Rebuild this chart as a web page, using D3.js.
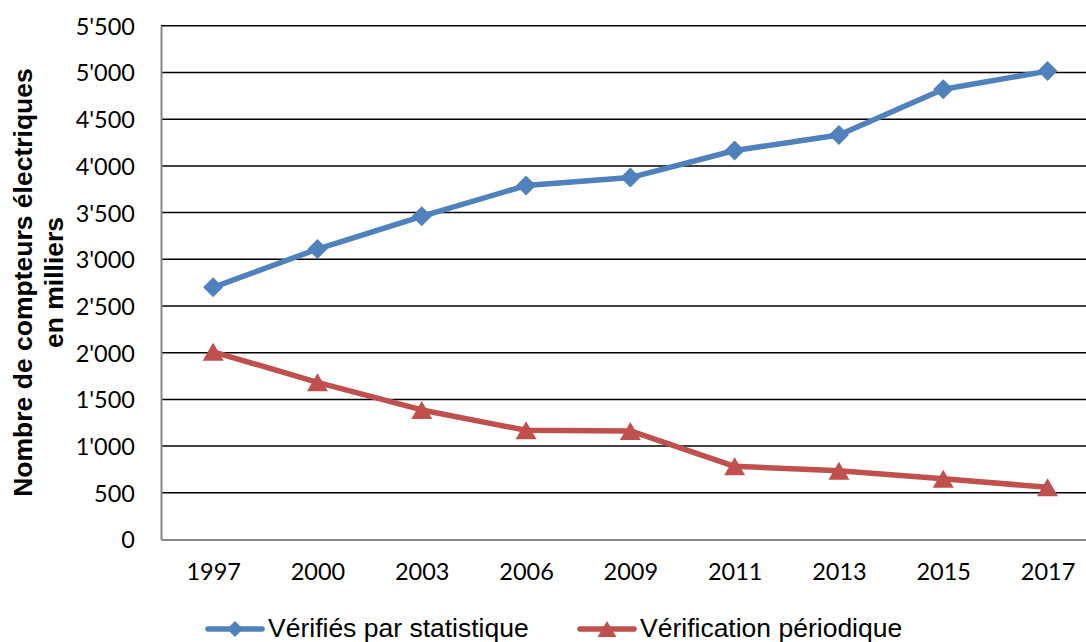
<!DOCTYPE html>
<html><head><meta charset="utf-8">
<script src="https://cdn.jsdelivr.net/npm/d3@7"></script>
<style>
html,body{margin:0;padding:0;background:#fff;}
svg{display:block;}
</style></head>
<body>
<svg id="chart" width="1086" height="642"></svg>
<script>
const years = ["1997","2000","2003","2006","2009","2011","2013","2015","2017"];
const statValues = [2700, 3110, 3460, 3790, 3875, 4165, 4330, 4820, 5015];
const periodValues = [2010, 1683, 1387, 1169, 1162, 784, 737, 650, 559];
const yTicks = [0,500,1000,1500,2000,2500,3000,3500,4000,4500,5000,5500];
const seriesNames = ["Vérifiés par statistique", "Vérification périodique"];
const yTitle = ["Nombre de compteurs électriques", "en milliers"];

const svg = d3.select("#chart");
const left = 161, bandW = 104.3;
const x = d3.scalePoint().domain(years).range([left, left + bandW*years.length]).padding(0.5);
const y = d3.scaleLinear().domain([0, 5500]).range([539.5, 25.8]);
const fmt = d3.formatLocale({decimal:".", thousands:"'", grouping:[3], currency:["",""]}).format(",");
const blue = "#4F81BD", red = "#C0504D";
const tickFont = "Lato, 'Open Sans', sans-serif";

// gridlines
svg.append("g").selectAll("line").data(yTicks.filter(d=>d>0)).join("line")
  .attr("x1", left).attr("x2", 1100)
  .attr("y1", d=>y(d)).attr("y2", d=>y(d))
  .attr("stroke", "#000").attr("stroke-width", 1.5);

// y axis
const yAxis = svg.append("g").attr("transform", `translate(${left},0)`)
  .call(d3.axisLeft(y).tickValues(yTicks).tickFormat(fmt).tickSize(0).tickPadding(26));
yAxis.select(".domain").attr("stroke", "#868686").attr("stroke-width", 2);
yAxis.selectAll("text").attr("font-family", tickFont).attr("font-size", 23.5).attr("fill", "#000").attr("dy", "0.36em");

// x axis
const xAxis = svg.append("g").attr("transform", `translate(0,${y(0)})`)
  .call(d3.axisBottom(x).tickSize(0).tickPadding(24));
xAxis.select(".domain").attr("stroke", "#868686").attr("stroke-width", 2);
xAxis.selectAll("text").attr("font-family", tickFont).attr("font-size", 23.5).attr("fill", "#000");

// y title
const t = svg.append("text").attr("transform", "translate(32,282.5) rotate(-90)")
  .attr("text-anchor", "middle").attr("font-family", "'Liberation Sans', Arial, sans-serif")
  .attr("font-weight", "bold").attr("font-size", 26.5).attr("fill", "#000");
t.append("tspan").attr("x", 0).attr("y", 0).text(yTitle[0]);
t.append("tspan").attr("x", 0).attr("y", 31).text(yTitle[1]);

const diamond = "M0,-10L10,0L0,10L-10,0Z";
const triangle = "M0,-9L10.5,9L-10.5,9Z";

const series = [
  {name: seriesNames[0], values: statValues, color: blue, marker: diamond},
  {name: seriesNames[1], values: periodValues, color: red, marker: triangle}
];
const line = d3.line().x((d,i)=>x(years[i])).y(d=>y(d));
series.forEach(s => {
  svg.append("path").attr("d", line(s.values)).attr("fill","none")
    .attr("stroke", s.color).attr("stroke-width", 5.5).attr("stroke-linejoin","round");
  svg.append("g").selectAll("path").data(s.values).join("path")
    .attr("d", s.marker).attr("fill", s.color)
    .attr("transform", (d,i)=>`translate(${x(years[i])},${y(d)})`);
});

// legend
const legendX = [208, 580];
series.forEach((s, i) => {
  const g = svg.append("g").attr("transform", `translate(${legendX[i]},629)`);
  g.append("line").attr("x1", 0).attr("x2", 54).attr("stroke", s.color).attr("stroke-width", 5.5).attr("stroke-linecap","round");
  g.append("path").attr("d", i===0 ? "M0,-8L8,0L0,8L-8,0Z" : "M0,-8L9.5,8L-9.5,8Z").attr("fill", s.color).attr("transform", "translate(27,0)");
  g.append("text").attr("x", 60).attr("y", 8).attr("font-family", "'Liberation Sans', Arial, sans-serif")
    .attr("font-size", 26.5).attr("fill", "#000").text(s.name);
});
</script>
</body></html>
